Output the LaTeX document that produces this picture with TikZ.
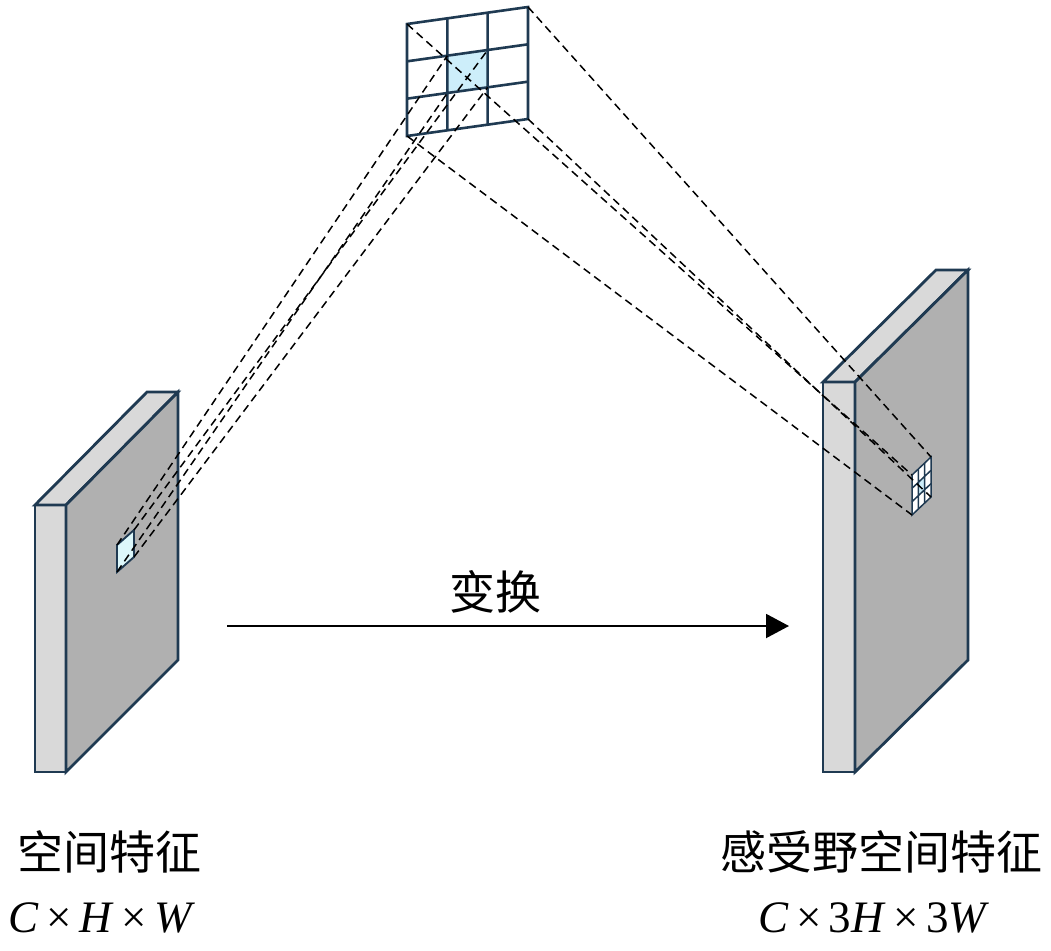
\documentclass[tikz,border=0pt]{standalone}
\usepackage{fontspec}
\setmainfont{Liberation Serif}
\newfontfamily\cjk{Noto Sans CJK SC}
\usetikzlibrary{calc,arrows.meta}
\definecolor{navy}{HTML}{1F3A52}
\definecolor{facelight}{HTML}{D9D9D9}
\definecolor{facedark}{HTML}{B0B0B0}
\definecolor{cellblue}{HTML}{CDEEFA}
\definecolor{pixcyan}{HTML}{DDF8FB}
\tikzset{
  slabline/.style={draw=navy,line width=2.8pt,line join=miter},
  proj/.style={draw=black,line width=1.5pt,dash pattern=on 8pt off 5pt},
  gridline/.style={draw=navy,line width=2.6pt},
  smallgridline/.style={draw=navy,line width=1.5pt},
  lbl/.style={inner sep=0pt,anchor=center},
}
\newcommand\defgrid[1]{%
  \foreach \i in {0,1,2,3}{%
    \coordinate (#1t\i) at ($(#1TL)!\i/3!(#1TR)$);
    \coordinate (#1b\i) at ($(#1BL)!\i/3!(#1BR)$);
    \coordinate (#1l\i) at ($(#1TL)!\i/3!(#1BL)$);
    \coordinate (#1r\i) at ($(#1TR)!\i/3!(#1BR)$);
  }%
  \coordinate (#1c1) at ($(#1t1)!1/3!(#1b1)$);
  \coordinate (#1c2) at ($(#1t2)!1/3!(#1b2)$);
  \coordinate (#1c3) at ($(#1t2)!2/3!(#1b2)$);
  \coordinate (#1c4) at ($(#1t1)!2/3!(#1b1)$);
}
\begin{document}
\begin{tikzpicture}[x=1pt,y=-1pt]
\useasboundingbox (0,0) rectangle (1051,950);
% ---------- left slab ----------
\coordinate (LfTL) at (35,505);
\coordinate (LfTR) at (66,505);
\coordinate (LfBR) at (66,772);
\coordinate (LfBL) at (35,772);
\coordinate (LbTL) at (147,392);
\coordinate (LbTR) at (178,392);
\coordinate (LbBR) at (178,660);
\filldraw[slabline,fill=facelight] (LfTL) -- (LfTR) -- (LfBR) -- (LfBL) -- cycle;
\filldraw[slabline,fill=facelight] (LfTL) -- (LbTL) -- (LbTR) -- (LfTR) -- cycle;
\filldraw[slabline,fill=facedark] (LfTR) -- (LbTR) -- (LbBR) -- (LfBR) -- cycle;
% ---------- right slab ----------
\coordinate (RfTL) at (823,382);
\coordinate (RfTR) at (855,382);
\coordinate (RfBR) at (855,772);
\coordinate (RfBL) at (823,772);
\coordinate (RbTL) at (936,270);
\coordinate (RbTR) at (968,270);
\coordinate (RbBR) at (968,660);
\filldraw[slabline,fill=facelight] (RfTL) -- (RfTR) -- (RfBR) -- (RfBL) -- cycle;
\filldraw[slabline,fill=facelight] (RfTL) -- (RbTL) -- (RbTR) -- (RfTR) -- cycle;
\filldraw[slabline,fill=facedark] (RfTR) -- (RbTR) -- (RbBR) -- (RfBR) -- cycle;
% ---------- left pixel ----------
\coordinate (pTL) at (117,545);
\coordinate (pTR) at (134,530);
\coordinate (pBR) at (134,557);
\coordinate (pBL) at (117,572);
\filldraw[draw=navy,line width=1.9pt,fill=pixcyan] (pTL) -- (pTR) -- (pBR) -- (pBL) -- cycle;
% ---------- top kernel grid ----------
\coordinate (kTL) at (407,24);
\coordinate (kTR) at (528,7);
\coordinate (kBR) at (528,119);
\coordinate (kBL) at (407,136);
\defgrid{k}
\fill[white] (kTL) -- (kTR) -- (kBR) -- (kBL) -- cycle;
\fill[cellblue] (kc1) -- (kc2) -- (kc3) -- (kc4) -- cycle;
\draw[gridline] (kt1) -- (kb1) (kt2) -- (kb2) (kl1) -- (kr1) (kl2) -- (kr2);
\draw[gridline,line join=miter] (kTL) -- (kTR) -- (kBR) -- (kBL) -- cycle;
% ---------- small grid on right slab ----------
\coordinate (sTL) at (912,475);
\coordinate (sTR) at (931,457);
\coordinate (sBR) at (931,497);
\coordinate (sBL) at (912,515);
\defgrid{s}
\fill[white] (sTL) -- (sTR) -- (sBR) -- (sBL) -- cycle;
\fill[cellblue] (sc1) -- (sc2) -- (sc3) -- (sc4) -- cycle;
\draw[smallgridline] (st1) -- (sb1) (st2) -- (sb2) (sl1) -- (sr1) (sl2) -- (sr2);
\draw[smallgridline,line join=miter] (sTL) -- (sTR) -- (sBR) -- (sBL) -- cycle;
% ---------- projection lines ----------
\draw[proj] (pTL) -- (kc1);
\draw[proj] (pTR) -- (kc2);
\draw[proj] (pBR) -- (kc3);
\draw[proj] (pBL) -- (kc4);
\draw[proj] (kTL) -- (sTL);
\draw[proj] (kTR) -- (sTR);
\draw[proj] (kBR) -- (sBR);
\draw[proj] (kBL) -- (sBL);
% ---------- transform arrow ----------
\coordinate (aS) at (227,626);
\coordinate (aE) at (789,626);
\draw[line width=2pt,-{Triangle[length=23pt,width=24pt]}] (aS) -- (aE);
\node[lbl] (trans) at (495,592) {\cjk\fontsize{46}{52}\selectfont 变换};
% ---------- labels ----------
\node[lbl] (l1) at (109,852) {\cjk\fontsize{46}{52}\selectfont 空间特征};
\node[lbl] (l2) at (102,918) {\fontsize{45}{50}\selectfont\textit{C}\,×\,\textit{H}\,×\,\textit{W}};
\node[lbl] (r1) at (881,852) {\cjk\fontsize{46}{52}\selectfont 感受野空间特征};
\node[lbl] (r2) at (874,918) {\fontsize{45}{50}\selectfont\textit{C}\,×\,3\textit{H}\,×\,3\textit{W}};
\end{tikzpicture}
\end{document}
